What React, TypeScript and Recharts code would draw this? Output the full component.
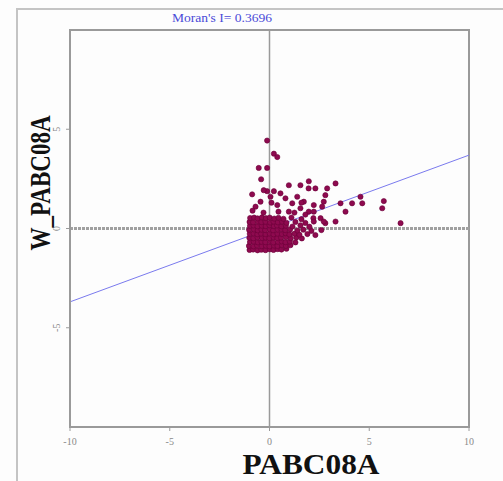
import React from "react";
import { ScatterChart, Scatter, XAxis, YAxis, ReferenceLine, ReferenceArea } from "recharts";

const TITLE = "Moran's I= 0.3696";
const X_LABEL = "PABC08A";
const Y_LABEL = "W_PABC08A";
const MORAN_I = 0.3696;
const X_TICKS = [-10, -5, 0, 5, 10];
const Y_TICKS = [-5, 0, 5];
const DOMAIN: [number, number] = [-10, 10];

// dense core of the cloud
const corePoints: [number, number][] = [
  [-1.0, -1.08], [-0.82, -1.06], [-0.6, -1.1], [-0.41, -1.07], [-0.2, -1.09], [0.02, -1.05], [0.2, -1.08], [0.41, -1.04], [0.6, -1.06], [0.85, -1.02],
  [-1.03, -0.88], [-0.8, -0.9], [-0.62, -0.86], [-0.39, -0.89], [-0.18, -0.87], [0.0, -0.9], [0.23, -0.86], [0.4, -0.88], [0.63, -0.85], [0.82, -0.88], [1.05, -0.84],
  [-0.98, -0.68], [-0.79, -0.66], [-0.58, -0.7], [-0.4, -0.67], [-0.21, -0.69], [0.03, -0.66], [0.19, -0.7], [0.42, -0.67], [0.61, -0.65], [0.8, -0.69], [1.02, -0.66], [1.3, -0.7],
  [-1.01, -0.47], [-0.81, -0.49], [-0.6, -0.45], [-0.38, -0.48], [-0.19, -0.46], [-0.01, -0.49], [0.21, -0.45], [0.39, -0.48], [0.58, -0.46], [0.83, -0.44], [1.07, -0.49], [1.35, -0.45], [1.62, -0.5],
  [-0.99, -0.27], [-0.8, -0.25], [-0.61, -0.29], [-0.42, -0.26], [-0.2, -0.28], [0.01, -0.25], [0.2, -0.29], [0.4, -0.26], [0.62, -0.28], [0.81, -0.24], [1.0, -0.3], [1.25, -0.26], [1.5, -0.31], [1.9, -0.28], [2.3, -0.33],
  [-1.02, -0.07], [-0.78, -0.05], [-0.59, -0.09], [-0.4, -0.06], [-0.22, -0.08], [0.02, -0.05], [0.18, -0.09], [0.41, -0.06], [0.6, -0.04], [0.79, -0.08], [1.03, -0.05], [1.4, -0.1], [1.7, -0.06], [2.1, -0.12], [2.6, -0.08],
  [-0.98, 0.13], [-0.8, 0.15], [-0.6, 0.11], [-0.39, 0.14], [-0.19, 0.12], [0.0, 0.16], [0.22, 0.12], [0.38, 0.15], [0.6, 0.11], [0.82, 0.14], [1.15, 0.1], [1.55, 0.16], [2.0, 0.09],
  [-1.0, 0.33], [-0.82, 0.31], [-0.58, 0.35], [-0.41, 0.32], [-0.2, 0.34], [0.03, 0.3], [0.2, 0.35], [0.42, 0.31], [0.63, 0.34], [0.85, 0.29], [1.3, 0.33], [1.8, 0.28],
  [-0.97, 0.53], [-0.77, 0.55], [-0.6, 0.51], [-0.38, 0.56], [-0.18, 0.52], [0.01, 0.55], [0.24, 0.5], [0.45, 0.54], [0.7, 0.49], [1.1, 0.55], [1.6, 0.47], [2.2, 0.52],
];

// scattered points around and above the core
const outerPoints: [number, number][] = [
  [-0.12, 4.43], [0.22, 3.77], [0.39, 3.6], [-0.54, 3.05], [-0.12, 3.05], [-0.42, 2.48],
  [0.97, 2.18], [1.55, 2.18], [1.97, 2.38], [1.96, 2.02], [2.3, 2.02], [2.89, 2.02], [3.31, 2.27],
  [-0.12, 1.88], [0.22, 1.88], [-0.87, 1.72], [-0.29, 1.93], [0.05, 1.6], [0.55, 1.77], [0.8, 1.52],
  [1.39, 1.6], [1.72, 1.35], [1.14, 1.27], [-0.45, 1.35], [0.39, 1.18], [2.22, 1.18], [1.55, 1.02],
  [-0.7, 1.1], [1.97, 0.85], [0.97, 0.85], [2.56, 0.52], [1.8, 0.7], [2.22, 0.35], [2.8, 0.27],
  [2.8, 1.68], [2.72, 1.35], [3.56, 1.27], [4.14, 1.27], [4.56, 1.6], [4.65, 1.27], [3.81, 0.85],
  [3.31, 0.35], [5.73, 1.38], [5.65, 1.02], [6.57, 0.27], [2.64, 1.1], [2.22, 0.85], [2.72, 0.35],
  [1.25, 0.8], [0.45, 0.85], [-0.3, 0.8], [-0.85, 0.9], [1.6, 1.3], [0.1, 1.3],
];

const points = [...corePoints, ...outerPoints].map(([x, y]) => ({ x, y }));

const XTick = (props: any) => {
  const { x, y, payload } = props;
  return (
    <text x={x} y={y + 12} textAnchor="middle" fontSize={10} fill="#8a8a8a" fontFamily="'Liberation Serif', serif">
      {payload.value}
    </text>
  );
};

const YTick = (props: any) => {
  const { x, y, payload } = props;
  return (
    <text
      x={x - 4}
      y={y}
      textAnchor="middle"
      fontSize={10}
      fill="#8a8a8a"
      fontFamily="'Liberation Serif', serif"
      transform={`rotate(-90 ${x - 4} ${y})`}
    >
      {payload.value}
    </text>
  );
};

const Dot = (props: any) => {
  const { cx, cy } = props;
  return <circle cx={cx} cy={cy} r={2.6} fill="#8e0a4f" stroke="#6a0038" strokeWidth={0.6} />;
};

export default function App() {
  return (
    <div style={{ position: "absolute", left: 0, top: 0, width: 503, height: 481, background: "#fdfdfd" }}>
      <div
        style={{
          position: "absolute",
          left: 16,
          top: 8,
          right: 0,
          bottom: 0,
          borderLeft: "2px solid #c4c4c4",
          borderTop: "2px solid #c4c4c4",
        }}
      />
      <div style={{ position: "absolute", left: 0, top: 0 }}>
        <ScatterChart width={503} height={481} margin={{ top: 30, right: 34, bottom: 24, left: 40 }}>
          <XAxis
            type="number"
            dataKey="x"
            domain={DOMAIN}
            ticks={X_TICKS}
            allowDataOverflow
            height={30}
            axisLine={{ stroke: "#9a9a9a", strokeWidth: 2 }}
            tickLine={{ stroke: "#9a9a9a" }}
            tickSize={4}
            tick={<XTick />}
          />
          <YAxis
            type="number"
            dataKey="y"
            domain={DOMAIN}
            ticks={Y_TICKS}
            allowDataOverflow
            width={30}
            axisLine={{ stroke: "#9a9a9a", strokeWidth: 2 }}
            tickLine={{ stroke: "#9a9a9a" }}
            tickSize={4}
            tick={<YTick />}
          />
          <ReferenceArea x1={-10} x2={10} y1={-10} y2={10} fill="none" stroke="#9a9a9a" strokeWidth={2} />
          <ReferenceLine y={0} stroke="#a0a0a0" strokeWidth={3} strokeDasharray="3 1" />
          <ReferenceLine x={0} stroke="#9a9a9a" strokeWidth={1.5} />
          <ReferenceLine
            segment={[
              { x: -10, y: -10 * MORAN_I },
              { x: 10, y: 10 * MORAN_I },
            ]}
            stroke="#7a7aee"
            strokeWidth={1}
          />
          <Scatter data={points} shape={<Dot />} isAnimationActive={false} />
        </ScatterChart>
      </div>
      <svg width={503} height={481} style={{ position: "absolute", left: 0, top: 0, pointerEvents: "none" }}>
        <text
          x={222}
          y={22}
          textAnchor="middle"
          fontSize={12}
          fill="#4a4ad8"
          fontFamily="'Liberation Serif', serif"
          textLength={100}
          lengthAdjust="spacingAndGlyphs"
        >
          {TITLE}
        </text>
        <text
          x={311}
          y={474}
          textAnchor="middle"
          fontSize={29}
          fontWeight="bold"
          fill="#111"
          fontFamily="'Liberation Serif', serif"
          textLength={137}
          lengthAdjust="spacingAndGlyphs"
        >
          {X_LABEL}
        </text>
        <text
          x={0}
          y={0}
          textAnchor="middle"
          fontSize={29}
          fontWeight="bold"
          fill="#111"
          fontFamily="'Liberation Serif', serif"
          textLength={135}
          lengthAdjust="spacingAndGlyphs"
          transform="translate(50 183) rotate(-90)"
        >
          {Y_LABEL}
        </text>
      </svg>
    </div>
  );
}
